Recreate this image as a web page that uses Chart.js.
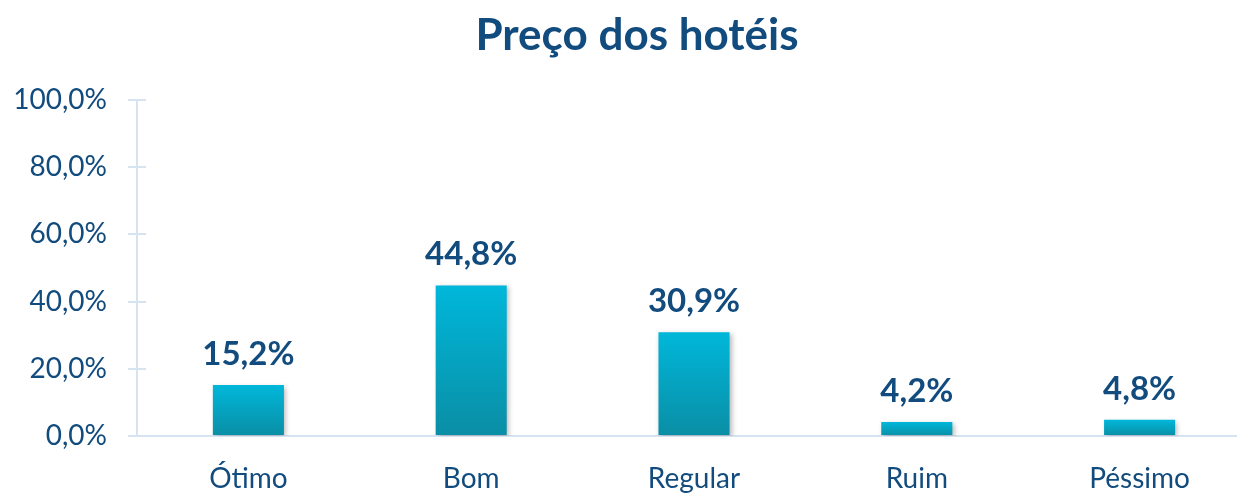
<!DOCTYPE html>
<html>
<head>
<meta charset="utf-8">
<script src="https://cdn.jsdelivr.net/npm/chart.js@4"></script>
<style>
    html, body { margin: 0; padding: 0; background: #fff; overflow: hidden; }
    #wrap { width: 1251px; height: 494px; }
</style>
</head>
<body>
<div id="wrap"><canvas id="hotelChart"></canvas></div>
<script>
// Chart data
const chartTitle = 'Preço dos hotéis';
const categories = ['Ótimo', 'Bom', 'Regular', 'Ruim', 'Péssimo'];
const values = [15.2, 44.8, 30.9, 4.2, 4.8];
const yTicks = [0, 20, 40, 60, 80, 100];

const textColor = '#124B7D';
const axisColor = '#D6E3F1';

// percentage with comma decimal
function pct(v) {
    return v.toFixed(1).replace('.', ',') + '%';
}

// per-bar vertical gradient
function barFill(context) {
    const chart = context.chart;
    const y = chart.scales.y;
    if (!chart.chartArea || !y) return '#00AECF';
    const v = context.raw;
    const top = y.getPixelForValue(v);
    const bottom = y.getPixelForValue(0);
    if (!isFinite(top) || bottom - top < 1) return '#00AECF';
    const g = chart.ctx.createLinearGradient(0, top, 0, bottom);
    g.addColorStop(0, '#00B7DA');
    g.addColorStop(1, '#0A8EA5');
    return g;
}

// shadow under bars, value labels, title, small ticks right of the y axis
const barExtras = {
    id: 'barExtras',
    beforeDatasetsDraw(chart) {
        const c = chart.ctx;
        c.save();
        c.shadowColor = 'rgba(0,0,0,0.28)';
        c.shadowBlur = 5;
        c.shadowOffsetX = 2;
        c.shadowOffsetY = 2;
    },
    afterDatasetsDraw(chart) {
        const c = chart.ctx;
        c.restore();
        c.save();
        c.font = 'bold 33px Lato';
        c.fillStyle = textColor;
        c.textAlign = 'center';
        c.textBaseline = 'alphabetic';
        chart.getDatasetMeta(0).data.forEach((bar, i) => {
            c.fillText(pct(values[i]), bar.x, bar.y - 20);
        });
        // title (centred a bit right of the canvas middle, as in the original)
        c.font = 'bold 44px Lato';
        c.textBaseline = 'middle';
        c.fillText(chartTitle, 637, 36);
        // right-hand halves of the y tick marks
        const y = chart.scales.y;
        const x0 = chart.chartArea.left;
        c.strokeStyle = axisColor;
        c.lineWidth = 2;
        yTicks.forEach(t => {
            const py = Math.round(y.getPixelForValue(t));
            c.beginPath();
            c.moveTo(x0, py);
            c.lineTo(x0 + 9, py);
            c.stroke();
        });
        c.restore();
    }
};

const ctx = document.getElementById('hotelChart').getContext('2d');
new Chart(ctx, {
    type: 'bar',
    data: {
        labels: categories,
        datasets: [{
            data: values,
            backgroundColor: barFill,
            borderWidth: 0,
            barPercentage: 0.319,
            categoryPercentage: 1
        }]
    },
    options: {
        responsive: true,
        maintainAspectRatio: false,
        animation: false,
        layout: { padding: { top: 100, left: 0, right: 0, bottom: 0 } },
        plugins: {
            legend: { display: false },
            tooltip: { enabled: false },
            title: { display: false }
        },
        scales: {
            x: {
                grid: { display: false, drawTicks: false },
                border: { color: axisColor, width: 2 },
                ticks: {
                    color: textColor,
                    font: { family: 'Lato', size: 28 },
                    padding: 26
                },
                afterFit(scale) { scale.height = 58; }
            },
            y: {
                min: 0,
                max: 100,
                afterBuildTicks(scale) {
                    scale.ticks = yTicks.map(v => ({ value: v }));
                },
                grid: {
                    drawOnChartArea: false,
                    drawTicks: true,
                    tickLength: 9,
                    color: axisColor,
                    lineWidth: 2
                },
                border: { color: axisColor, width: 2 },
                ticks: {
                    color: textColor,
                    font: { family: 'Lato', size: 28 },
                    padding: 21,
                    callback: v => pct(v)
                },
                afterFit(scale) { scale.width = 137; }
            }
        }
    },
    plugins: [barExtras]
});
</script>
</body>
</html>
